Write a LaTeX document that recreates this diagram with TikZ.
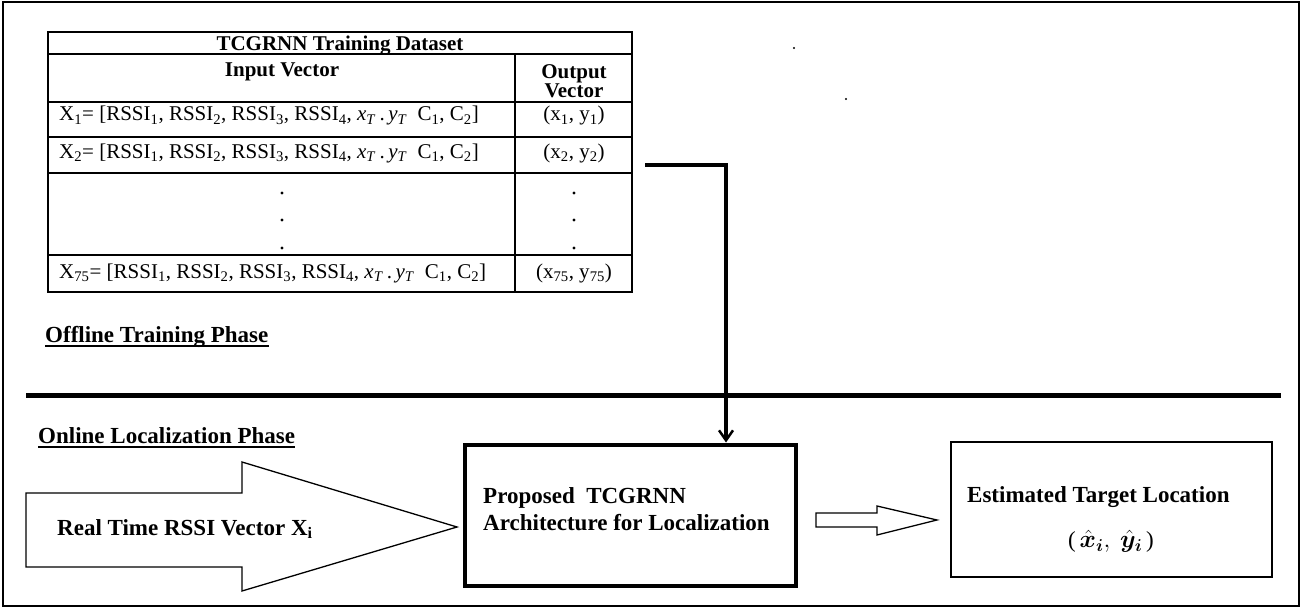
\documentclass[tikz,border=0pt]{standalone}
\usepackage{fontspec}
\setmainfont{Liberation Serif}
\usepackage{bm}
\usetikzlibrary{arrows.meta}
\begin{document}
\begin{tikzpicture}[x=1pt,y=-1pt,
  tabtxt/.style={font=\fontsize{21}{25}\selectfont, inner sep=0pt},
  tabhead/.style={font=\fontsize{21}{23}\selectfont\bfseries, inner sep=0pt, align=center},
  lbl/.style={font=\fontsize{23}{27}\selectfont\bfseries, inner sep=0pt},
  grid/.style={line width=1.6pt},
  dotmark/.style={fill=black},
  thickrule/.style={line width=5pt},
  flow/.style={line width=4pt, -{Straight Barb[length=10pt,width=14pt,line width=2.5pt]}},
  bigarrow/.style={draw, line width=1.3pt, fill=white, line join=miter},
  propbox/.style={draw, line width=4pt, minimum width=331pt, minimum height=141pt, inner sep=0pt},
  estbox/.style={draw, line width=1.8pt, minimum width=321pt, minimum height=135pt, inner sep=0pt}
]
% background and frame
\fill[white] (0,0) rectangle (1307,610);
\useasboundingbox (0,0) rectangle (1307,610);
\draw[line width=2pt] (3,2) rectangle (1299,606);

% ---------- table ----------
\draw[grid] (48,32) rectangle (632,292);
\draw[grid] (48,54) -- (632,54);
\draw[grid] (48,102) -- (632,102);
\draw[grid] (48,137) -- (632,137);
\draw[grid] (48,173) -- (632,173);
\draw[grid] (48,255) -- (632,255);
\draw[grid] (515,54) -- (515,292);

\node[tabhead, anchor=base] (ttl) at (340,51) {TCGRNN Training Dataset};
\node[tabhead, anchor=base] (inv) at (282,77) {Input Vector};
\node[tabhead, anchor=base] (outv1) at (574,78) {Output};
\node[tabhead, anchor=base] (outv2) at (574,98) {Vector};

\node[tabtxt, anchor=base west] (r1) at (59,121) {X\textsubscript{1}= [RSSI\textsubscript{1}, RSSI\textsubscript{2}, RSSI\textsubscript{3}, RSSI\textsubscript{4}, \textit{x}\textsubscript{\textit{T}}\,.\,\textit{y}\textsubscript{\textit{T}}~ C\textsubscript{1}, C\textsubscript{2}]};
\node[tabtxt, anchor=base] (o1) at (574,121) {(x\textsubscript{1}, y\textsubscript{1})};
\node[tabtxt, anchor=base west] (r2) at (59,158) {X\textsubscript{2}= [RSSI\textsubscript{1}, RSSI\textsubscript{2}, RSSI\textsubscript{3}, RSSI\textsubscript{4}, \textit{x}\textsubscript{\textit{T}}\,.\,\textit{y}\textsubscript{\textit{T}}~ C\textsubscript{1}, C\textsubscript{2}]};
\node[tabtxt, anchor=base] (o2) at (574,158) {(x\textsubscript{2}, y\textsubscript{2})};
\node[tabtxt, anchor=base west] (r75) at (59,278) {X\textsubscript{75}= [RSSI\textsubscript{1}, RSSI\textsubscript{2}, RSSI\textsubscript{3}, RSSI\textsubscript{4}, \textit{x}\textsubscript{\textit{T}}\,.\,\textit{y}\textsubscript{\textit{T}}~ C\textsubscript{1}, C\textsubscript{2}]};
\node[tabtxt, anchor=base] (o75) at (574,278) {(x\textsubscript{75}, y\textsubscript{75})};

\foreach \yy in {193,220,248} {
  \fill[dotmark] (282,\yy) circle (1.6pt);
  \fill[dotmark] (574,\yy) circle (1.6pt);
}
% stray marks
\fill[dotmark] (794,48) circle (1.1pt);
\fill[dotmark] (846,99) circle (1.1pt);

% ---------- phase labels ----------
\node[lbl, anchor=base west] (off) at (45,342) {Offline Training Phase};
\draw[line width=1.5pt] ([yshift=-4pt]off.base west) -- ([yshift=-4pt]off.base east);
\draw[thickrule] (26,395) -- (1281,395);
\node[lbl, anchor=base west] (onl) at (38,443) {Online Localization Phase};
\draw[line width=1.5pt] ([yshift=-4pt]onl.base west) -- ([yshift=-4pt]onl.base east);

% ---------- boxes ----------
\node[propbox] (prop) at (630.5,515) {};
\node[lbl, anchor=base west] (prop1) at (483,503) {Proposed\ \ TCGRNN};
\node[lbl, anchor=base west] (prop2) at (483,530) {Architecture for Localization};

\node[estbox] (est) at (1111.5,509.5) {};
\node[lbl, anchor=base west] (est1) at (967,502) {Estimated Target Location};
\node[inner sep=0pt, font=\fontsize{23}{27}\selectfont, anchor=center] (est2) at (1111,541) {(\,$\hat{\bm{x}}_{\bm{i}},\ \hat{\bm{y}}_{\bm{i}}$\,)};

% ---------- big input arrow ----------
\coordinate (bigtip) at (457,527);
\draw[bigarrow] (26,493) -- (242,493) -- (242,462) -- (bigtip) -- (242,591) -- (242,567) -- (26,567) -- cycle;
\node[lbl, anchor=base west] (rt) at (57,535) {Real Time RSSI Vector X\textsubscript{i}};

% ---------- small output arrow ----------
\draw[line width=1.3pt, fill=white, line join=miter] (816,513) -- (877,513) -- (877,506) -- (937,520) -- (877,535) -- (877,527) -- (816,527) -- cycle;

% ---------- connector from table to network ----------
\coordinate (tabout) at (645,165);
\coordinate (bend) at (726,165);
\draw[flow, line join=miter] (tabout) -- (bend) -- (bend |- prop.north);
\end{tikzpicture}
\end{document}
